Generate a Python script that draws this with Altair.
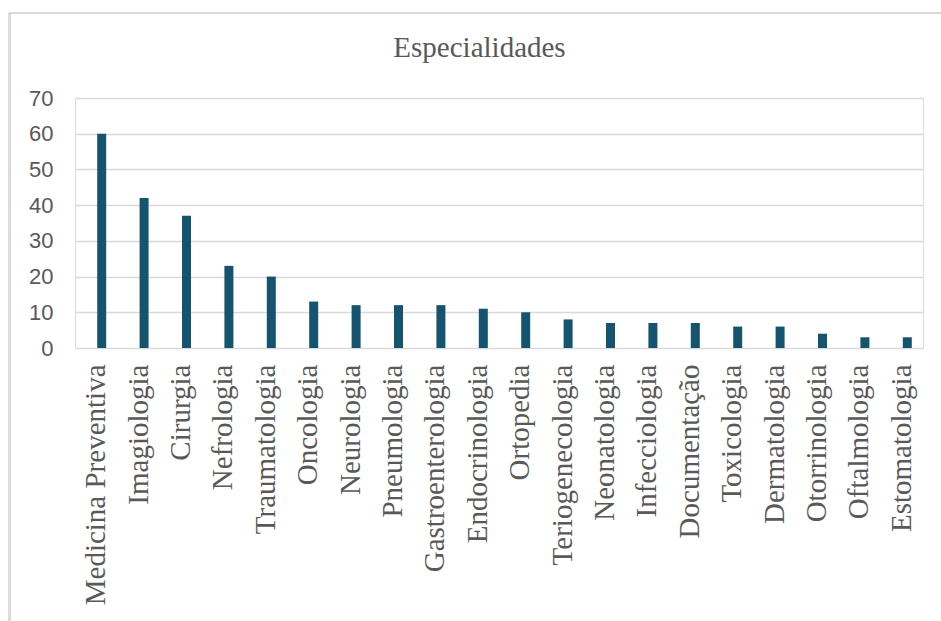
import altair as alt
import pandas as pd

especialidades = [
    "Medicina Preventiva", "Imagiologia", "Cirurgia", "Nefrologia",
    "Traumatologia", "Oncologia", "Neurologia", "Pneumologia",
    "Gastroenterologia", "Endocrinologia", "Ortopedia", "Teriogenecologia",
    "Neonatologia", "Infecciologia", "Documentação", "Toxicologia",
    "Dermatologia", "Otorrinologia", "Oftalmologia", "Estomatologia",
]
valores = [60, 42, 37, 23, 20, 13, 12, 12, 12, 11, 10, 8, 7, 7, 7, 6, 6, 4, 3, 3]
y_ticks = [0, 10, 20, 30, 40, 50, 60, 70]

df = pd.DataFrame({"especialidade": especialidades, "valor": valores})

GRAY = "#D9D9D9"
TEXT = "#595959"

bars = alt.Chart(df).mark_bar(size=9, color="#14546F", xOffset=5.5).encode(
    x=alt.X(
        "especialidade:N",
        sort=None,
        title=None,
        scale=alt.Scale(paddingInner=0, paddingOuter=0),
        axis=alt.Axis(
            labelAngle=270,
            labelFont="Liberation Serif",
            labelFontSize=29,
            labelColor=TEXT,
            labelPadding=16,
            labelLimit=400,
            domain=False,
            ticks=False,
            grid=False,
        ),
    ),
    y=alt.Y(
        "valor:Q",
        title=None,
        scale=alt.Scale(domain=[0, 70], nice=False),
        axis=alt.Axis(
            values=y_ticks,
            labelFont="Liberation Sans",
            labelFontSize=22,
            labelColor=TEXT,
            labelPadding=22,
            domain=False,
            ticks=False,
            grid=True,
            gridColor=GRAY,
            gridWidth=1.5,
        ),
    ),
)

# outer frame of the chart area (top and left edges)
frame_top = alt.Chart(df).mark_rule(color=GRAY, strokeWidth=1.5, clip=False).encode(
    x=alt.value(-65.5), x2=alt.value(900), y=alt.value(-85)
)
frame_left = alt.Chart(df).mark_rule(color=GRAY, strokeWidth=1.5, clip=False).encode(
    x=alt.value(-65.5), y=alt.value(-85), y2=alt.value(600)
)

chart = alt.layer(frame_top, frame_left, bars).properties(
    width=848,
    height=250,
    padding={"left": 75, "top": 98, "right": 18, "bottom": 273},
    autosize=alt.AutoSizeParams(type="none"),
    title=alt.TitleParams(
        "Especialidades",
        font="Liberation Serif",
        fontSize=29,
        fontWeight="normal",
        color=TEXT,
        anchor="middle",
        baseline="alphabetic",
        dx=-19.5,
        dy=74,
        offset=0,
    ),
).configure_view(stroke=None).configure(background="white")

chart.save("out.html", embed_options={"renderer": "svg", "actions": False})
